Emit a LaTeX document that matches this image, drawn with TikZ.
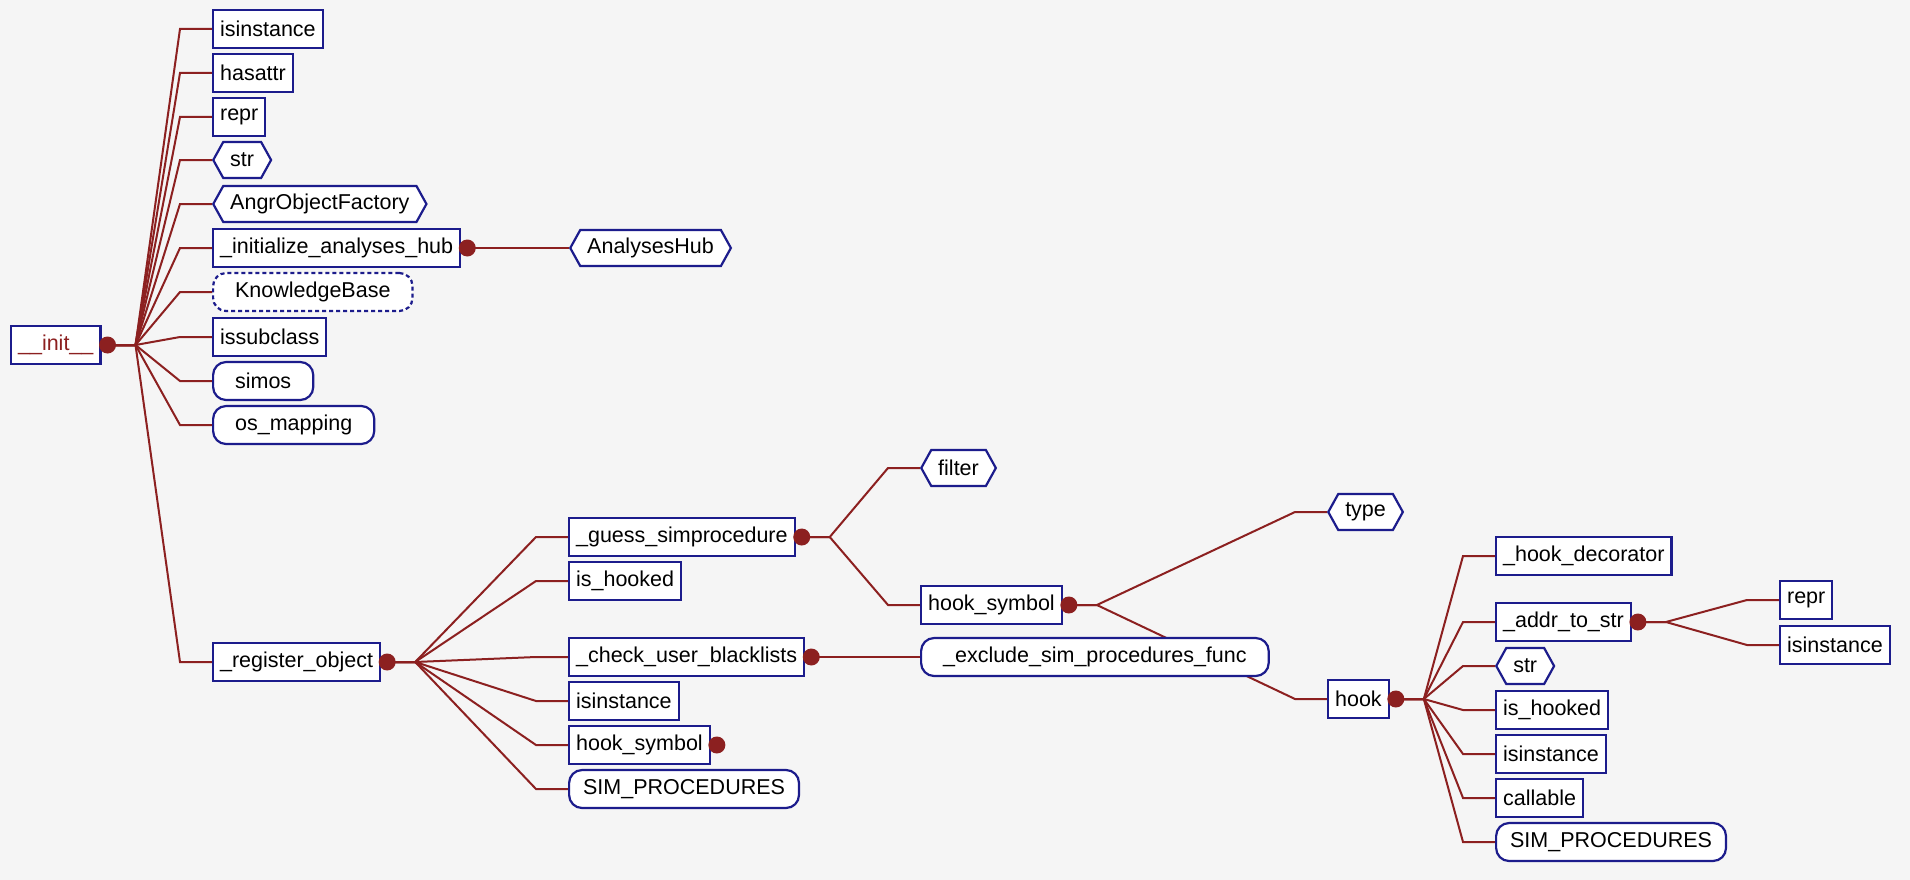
\documentclass[tikz,border=0pt]{standalone}
\usepackage{fontspec}
\setmainfont{Liberation Sans}
\usetikzlibrary{calc,shapes.symbols}
\definecolor{wine}{RGB}{140,32,32}
\definecolor{navy}{RGB}{28,28,140}
\definecolor{paper}{RGB}{245,245,245}
\pgfdeclarelayer{bg}
\pgfsetlayers{bg,main}
\tikzset{
	fn/.style={draw=navy, fill=white, line width=2.2pt, anchor=west, inner xsep=7pt, inner ysep=0pt,
		minimum height=38pt, font=\fontsize{21.5}{26}\selectfont},
	cls/.style={fn, signal, signal to=east and west, signal pointer angle=122, minimum height=36pt},
	var/.style={fn, rounded corners=13pt, inner xsep=22pt},
	ext/.style={var, dash pattern=on 4pt off 3pt},
	conn/.style={draw=wine, line width=2pt},
}
\def\branch(#1)(#2){\draw[conn] ($(#1.east)+(6,0)$) -- ($(#1.east)+(34,0)$) -- ($(#2.west)+(-32,0)$) -- (#2.west);}
\def\knob(#1){\fill[wine] ($(#1.east)+(6,0)$) circle (8.5pt);}
\begin{document}
\begin{tikzpicture}[x=1pt, y=-1pt]
		%%%%% START %%%%%
		\useasboundingbox (0,0) rectangle (1910,880);
		
		\node[fn, text=wine] (init) at (10,345) {\_\_init\_\_};
		
		\node[fn] (isinstA) at (212,29) {isinstance};
		\node[fn] (hasattr) at (212,73) {hasattr};
		\node[fn] (reprA) at (212,117) {repr};
		\node[cls] (strA) at (212,160) {str};
		\node[cls] (angr) at (212,204) {AngrObjectFactory};
		\node[fn] (inithub) at (212,248) {\_initialize\_analyses\_hub};
		\node[ext] (kb) at (212,292) {KnowledgeBase};
		\node[fn] (issub) at (212,337) {issubclass};
		\node[var] (simos) at (212,381) {simos};
		\node[var] (osmap) at (212,425) {os\_mapping};
		\node[fn] (register) at (212,662) {\_register\_object};
		
		\node[cls] (ahub) at (569,248) {AnalysesHub};
		
		\node[fn] (guess) at (568,537) {\_guess\_simprocedure};
		\node[fn] (ishookA) at (568,581) {is\_hooked};
		\node[fn] (checkbl) at (568,657) {\_check\_user\_blacklists};
		\node[fn] (isinstB) at (568,701) {isinstance};
		\node[fn] (hooksymB) at (568,745) {hook\_symbol};
		\node[var, inner xsep=14pt] (simprocA) at (568,789) {SIM\_PROCEDURES};
		
		\node[cls] (filter) at (920,468) {filter};
		\node[fn] (hooksymA) at (920,605) {hook\_symbol};
		\node[var] (exclude) at (920,657) {\_exclude\_sim\_procedures\_func};
		
		\node[cls] (type) at (1327,512) {type};
		\node[fn] (hook) at (1327,699) {hook};
		
		\node[fn] (hookdec) at (1495,556) {\_hook\_decorator};
		\node[fn] (addrstr) at (1495,622) {\_addr\_to\_str};
		\node[cls] (strB) at (1495,666) {str};
		\node[fn] (ishookB) at (1495,710) {is\_hooked};
		\node[fn] (isinstC) at (1495,754) {isinstance};
		\node[fn] (callable) at (1495,798) {callable};
		\node[var, inner xsep=14pt] (simprocB) at (1495,842) {SIM\_PROCEDURES};
		
		\node[fn] (reprB) at (1779,600) {repr};
		\node[fn] (isinstD) at (1779,645) {isinstance};
		
		\begin{pgfonlayer}{bg}
			\fill[paper] (0,0) rectangle (1910,880);
			\foreach \c in {isinstA,hasattr,reprA,strA,angr,inithub,kb,issub,simos,osmap,register}
				{\branch(init)(\c)}
			\branch(inithub)(ahub)
			\foreach \c in {guess,ishookA,checkbl,isinstB,hooksymB,simprocA}
				{\branch(register)(\c)}
			\branch(guess)(filter)
			\branch(guess)(hooksymA)
			\branch(checkbl)(exclude)
			\branch(hooksymA)(type)
			\branch(hooksymA)(hook)
			\foreach \c in {hookdec,addrstr,strB,ishookB,isinstC,callable,simprocB}
				{\branch(hook)(\c)}
			\branch(addrstr)(reprB)
			\branch(addrstr)(isinstD)
		\end{pgfonlayer}
		
		\foreach \p in {init,inithub,register,guess,checkbl,hooksymB,hooksymA,hook,addrstr}
			{\knob(\p)}
		%%%%% END %%%%%
	\end{tikzpicture}
\end{document}
